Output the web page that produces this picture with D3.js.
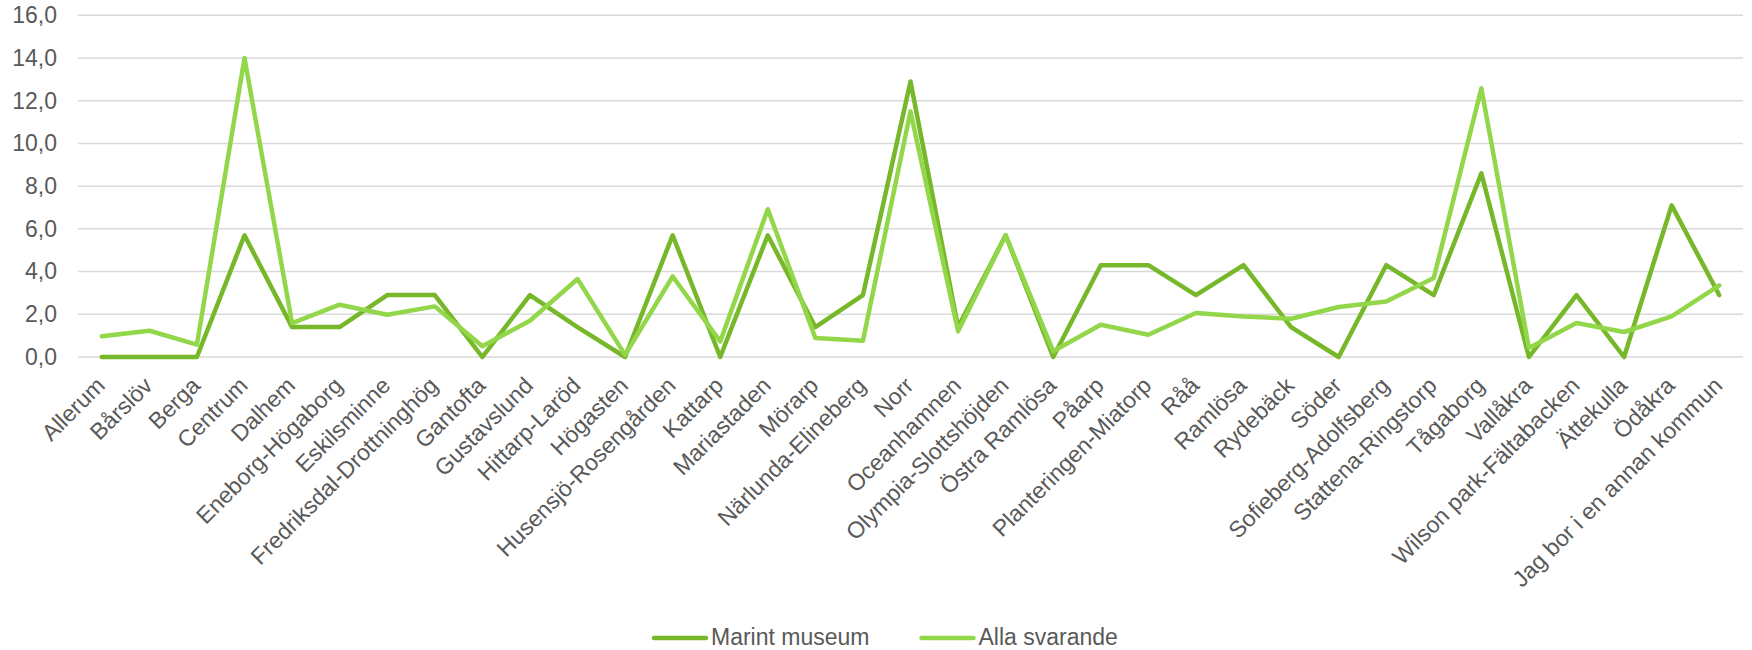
<!DOCTYPE html>
<html>
<head>
<meta charset="utf-8">
<script src="https://cdn.jsdelivr.net/npm/d3@7"></script>
<style>
	body { margin: 0; background: #fff; }
	text { font-family: "Liberation Sans", Arial, sans-serif; fill: #595959; }
</style>
</head>
<body>
<script>
var categories = ["Allerum", "Bårslöv", "Berga", "Centrum", "Dalhem", "Eneborg-Högaborg", "Eskilsminne",
	"Fredriksdal-Drottninghög", "Gantofta", "Gustavslund", "Hittarp-Laröd", "Högasten", "Husensjö-Rosengården",
	"Kattarp", "Mariastaden", "Mörarp", "Närlunda-Elineberg", "Norr", "Oceanhamnen", "Olympia-Slottshöjden",
	"Östra Ramlösa", "Påarp", "Planteringen-Miatorp", "Råå", "Ramlösa", "Rydebäck", "Söder",
	"Sofieberg-Adolfsberg", "Stattena-Ringstorp", "Tågaborg", "Vallåkra", "Wilson park-Fältabacken",
	"Ättekulla", "Ödåkra", "Jag bor i en annan kommun"];

var marintMuseum = [0, 0, 0, 5.7, 1.4, 1.4, 2.9, 2.9, 0, 2.9, 1.4, 0, 5.7, 0, 5.7, 1.4, 2.9, 12.9, 1.4, 5.7,
	0, 4.3, 4.3, 2.9, 4.3, 1.4, 0, 4.3, 2.9, 8.6, 0, 2.9, 0, 7.1, 2.9];

var allaSvarande = [0.97, 1.23, 0.58, 14.0, 1.59, 2.45, 1.98, 2.37, 0.5, 1.7, 3.65, 0.1, 3.77, 0.73, 6.92, 0.89,
	0.76, 11.5, 1.2, 5.7, 0.27, 1.51, 1.04, 2.06, 1.9, 1.79, 2.34, 2.6, 3.7, 12.58, 0.42, 1.59, 1.17, 1.9, 3.35];

var yTicks = [0, 2, 4, 6, 8, 10, 12, 14, 16];

var seriesNames = ["Marint museum", "Alla svarande"];
var colors = ["#77b82a", "#92d64a"];

var width = 1752, height = 650;
var plotLeft = 78, plotRight = 1743, plotTop = 15.3, plotBottom = 357;

var svg = d3.select("body").append("svg")
	.attr("width", width)
	.attr("height", height);

var x = d3.scalePoint()
	.domain(categories)
	.range([plotLeft, plotRight])
	.padding(0.5);
var y = d3.scaleLinear()
	.domain([0, 16])
	.range([plotBottom, plotTop]);

var fmt = d3.formatLocale({decimal: ",", thousands: " ", grouping: [3], currency: ["", " kr"]}).format(".1f");

// gridlines
svg.append("g")
	.selectAll("line")
	.data(yTicks)
	.enter().append("line")
	.attr("x1", plotLeft)
	.attr("x2", plotRight)
	.attr("y1", function(d) { return y(d); })
	.attr("y2", function(d) { return y(d); })
	.attr("stroke", "#d9d9d9")
	.attr("stroke-width", 1.5);

// y axis labels
var yAxis = svg.append("g")
	.attr("transform", "translate(" + (plotLeft - 21) + ",0)")
	.call(d3.axisLeft(y).tickValues(yTicks).tickFormat(fmt).tickSize(0).tickPadding(0));
yAxis.select(".domain").remove();
yAxis.selectAll("text")
	.attr("font-size", 23)
	.attr("font-family", null)
	.attr("fill", null);

// x axis labels
var xAxis = svg.append("g")
	.attr("transform", "translate(0," + plotBottom + ")")
	.call(d3.axisBottom(x).tickSize(0).tickPadding(0));
xAxis.select(".domain").remove();
xAxis.selectAll("text")
	.attr("font-size", 23)
	.attr("font-family", null)
	.attr("fill", null)
	.attr("dy", null)
	.attr("y", null)
	.attr("text-anchor", "end")
	.attr("transform", "translate(4,30) rotate(-45)");

// lines
var line = d3.line()
	.x(function(d, i) { return x(categories[i]); })
	.y(function(d) { return y(d); });

[marintMuseum, allaSvarande].forEach(function(s, i) {
	svg.append("path")
		.datum(s)
		.attr("fill", "none")
		.attr("stroke", colors[i])
		.attr("stroke-width", 4.5)
		.attr("stroke-linejoin", "round")
		.attr("stroke-linecap", "round")
		.attr("d", line);
});

// legend
var legend = svg.append("g").attr("transform", "translate(652,637)");
var lx = 0;
seriesNames.forEach(function(name, i) {
	var g = legend.append("g").attr("transform", "translate(" + lx + ",0)");
	g.append("line")
		.attr("x1", 2).attr("x2", 54)
		.attr("y1", 1).attr("y2", 1)
		.attr("stroke", colors[i])
		.attr("stroke-width", 4.5)
		.attr("stroke-linecap", "round");
	var t = g.append("text")
		.attr("x", 59)
		.attr("dy", "0.35em")
		.attr("font-size", 23)
		.text(name);
	lx += 59 + t.node().getComputedTextLength() + 50;
});
</script>
</body>
</html>
